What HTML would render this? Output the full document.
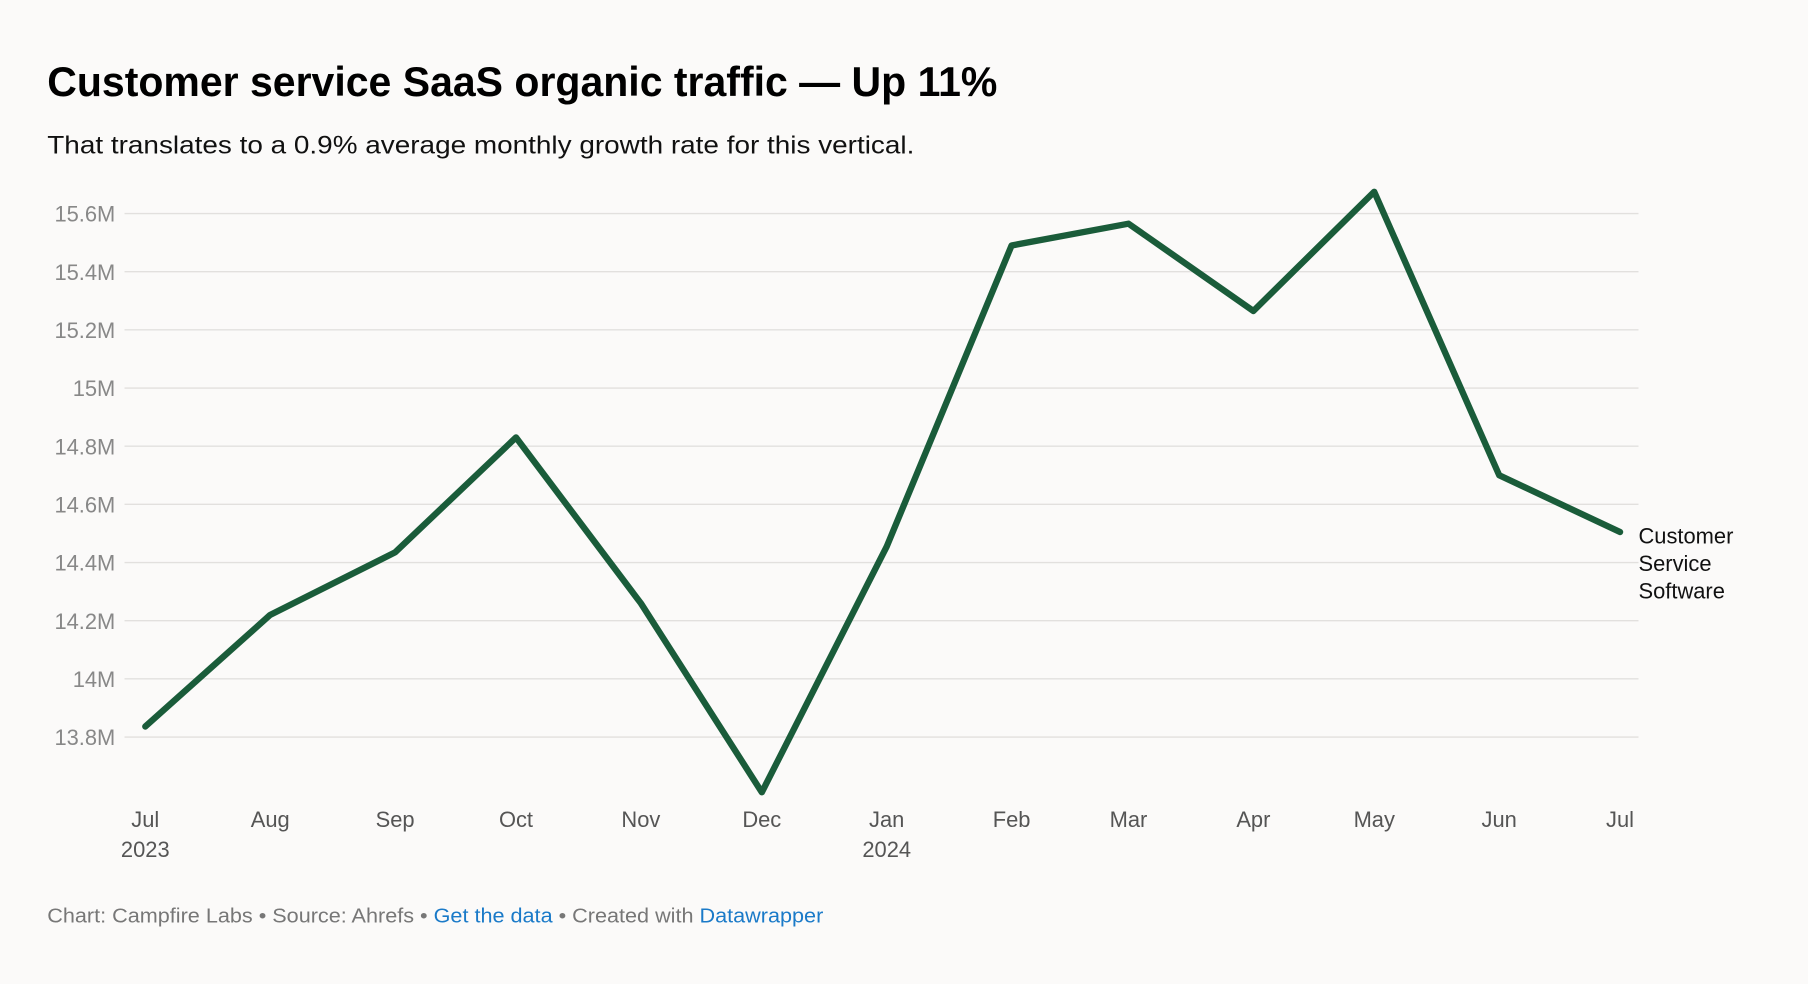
<!DOCTYPE html>
<html><head><meta charset="utf-8"><style>
html,body{margin:0;padding:0;background:#fbfaf9;}
svg{display:block;font-family:"Liberation Sans",sans-serif;}
</style></head><body>
<svg width="1808" height="984" viewBox="0 0 1568 853">
<rect width="1568" height="853" fill="#fbfaf9"/>
<text x="41" y="83" font-size="36" font-weight="bold" fill="#000" textLength="824" lengthAdjust="spacingAndGlyphs">Customer service SaaS organic traffic — Up 11%</text>
<text x="41" y="133" font-size="22" fill="#111" textLength="752" lengthAdjust="spacingAndGlyphs">That translates to a 0.9% average monthly growth rate for this vertical.</text>
<g id="grid"></g><g id="xaxis"></g>
<path id="line" fill="none" stroke="#1a5c3a" stroke-width="5.5" stroke-linejoin="round" stroke-linecap="round"/>
<text x="1421" y="471" font-size="19" fill="#111"><tspan x="1421" y="471">Customer</tspan><tspan x="1421" y="495">Service</tspan><tspan x="1421" y="519">Software</tspan></text>
<text x="41" y="800" font-size="17.5" fill="#777" textLength="673" lengthAdjust="spacingAndGlyphs">Chart: Campfire Labs • Source: Ahrefs • <tspan fill="#1a7ac8">Get the data</tspan> • Created with <tspan fill="#1a7ac8">Datawrapper</tspan></text>
</svg>
<script>
const dates=["2023-07-01","2023-08-01","2023-09-01","2023-10-01","2023-11-01","2023-12-01","2024-01-01","2024-02-01","2024-03-01","2024-04-01","2024-05-01","2024-06-01","2024-07-01"];
const values=[13.836,14.22,14.435,14.83,14.26,13.61,14.455,15.49,15.565,15.265,15.675,14.70,14.505];
const yTicks=[13.8,14,14.2,14.4,14.6,14.8,15,15.2,15.4,15.6];
const xLabels=["Jul","Aug","Sep","Oct","Nov","Dec","Jan","Feb","Mar","Apr","May","Jun","Jul"];
const xSub={0:"2023",6:"2024"};
const NS="http://www.w3.org/2000/svg";
const t0=Date.parse(dates[0]),t1=Date.parse(dates[dates.length-1]);
const x=d=>126+(Date.parse(d)-t0)/(t1-t0)*(1405-126);
const y=v=>639-(v-13.8)/1.8*(639-185);
const grid=document.getElementById('grid');
yTicks.forEach(t=>{
 const l=document.createElementNS(NS,'line');
 l.setAttribute('x1',108);l.setAttribute('x2',1421);l.setAttribute('y1',y(t));l.setAttribute('y2',y(t));
 l.setAttribute('stroke','#e2e0de');l.setAttribute('stroke-width','1.2');
 
 
 grid.appendChild(l);
 const tx=document.createElementNS(NS,'text');
 tx.setAttribute('x',100);tx.setAttribute('y',y(t)+7);tx.setAttribute('text-anchor','end');
 tx.setAttribute('font-size','19');tx.setAttribute('fill','#888');
 tx.textContent=(Math.round(t*10)/10)+'M';
 
 
 grid.appendChild(tx);
});
const xa=document.getElementById('xaxis');
dates.forEach((d,i)=>{
 const tx=document.createElementNS(NS,'text');
 tx.setAttribute('x',x(d));tx.setAttribute('y',717);tx.setAttribute('text-anchor','middle');
 tx.setAttribute('font-size','19');tx.setAttribute('fill','#555');
 tx.textContent=xLabels[i];
 
 
 xa.appendChild(tx);
 if(xSub[i]){
  const s=document.createElementNS(NS,'text');
  s.setAttribute('x',x(d));s.setAttribute('y',743);s.setAttribute('text-anchor','middle');
  s.setAttribute('font-size','19');s.setAttribute('fill','#555');
  s.textContent=xSub[i];
  
  
  xa.appendChild(s);
 }
});
document.getElementById('line').setAttribute('d',dates.map((d,i)=>(i?'L':'M')+x(d).toFixed(1)+','+y(values[i]).toFixed(1)).join(''));
</script>
</body></html>
